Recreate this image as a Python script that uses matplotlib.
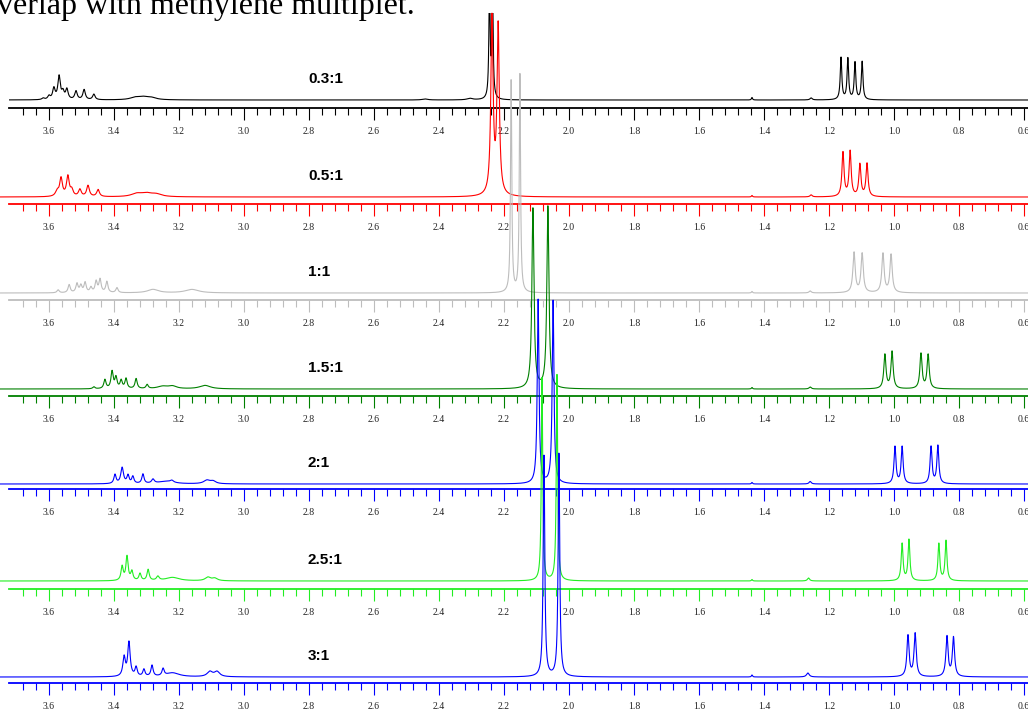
import numpy as np
import matplotlib
matplotlib.use("Agg")
import matplotlib.pyplot as plt
from matplotlib.ticker import FixedLocator, FormatStrFormatter

# ---------------- data ----------------
ratio_labels = ["0.3:1", "0.5:1", "1:1", "1.5:1", "2:1", "2.5:1", "3:1"]
line_colors = ["#000000", "#ff0000", "#bdbdbd", "#008000", "#0000ff", "#22ee22", "#0000ff"]

# peak tables: chemical shift (ppm), height (rel.), half width (ppm)
shifts_03 = [3.618, 3.600, 3.585, 3.569, 3.557, 3.545, 3.517, 3.492, 3.462,
             3.335, 3.310, 3.285, 2.443, 2.305, 2.2446, 2.2354,
             1.437, 1.255, 1.163, 1.142, 1.120, 1.098]
heights_03 = [1.5, 3.5, 11, 23, 7, 10, 8.5, 10, 5.5,
              2.2, 2.4, 2.0, 1, 1.5, 110, 110,
              2.5, 2, 42, 41, 37, 38]
widths_03 = [0.0045, 0.0045, 0.0045, 0.0045, 0.0045, 0.0045, 0.0045, 0.0045, 0.0045,
             0.018, 0.018, 0.018, 0.01, 0.01, 0.0023, 0.0023,
             0.002, 0.004, 0.0029, 0.0029, 0.0029, 0.0029]

shifts_05 = [3.575, 3.563, 3.542, 3.530, 3.505, 3.480, 3.449,
             3.330, 3.300, 3.270, 1.437, 1.255, 2.237, 2.218,
             1.157, 1.135, 1.105, 1.083]
heights_05 = [5, 18, 20, 6, 7, 11, 7,
              3, 3, 2.5, 1.5, 2, 176, 168,
              44, 45, 32, 33]
widths_05 = [0.006, 0.005, 0.005, 0.005, 0.005, 0.005, 0.005,
             0.02, 0.02, 0.02, 0.002, 0.004, 0.0042, 0.0042,
             0.0038, 0.0038, 0.0038, 0.0038]

shifts_10 = [3.572, 3.538, 3.514, 3.502, 3.489, 3.471, 3.455, 3.443, 3.422, 3.391,
             3.280, 3.160, 2.178, 2.151, 1.437, 1.258,
             1.123, 1.098, 1.034, 1.009]
heights_10 = [3, 8, 9, 7, 10, 5, 11, 13, 11, 5,
              3.5, 3.5, 212, 218, 1.5, 2,
              40, 39, 39, 38]
widths_10 = [0.004, 0.004, 0.004, 0.004, 0.004, 0.004, 0.004, 0.004, 0.004, 0.004,
             0.02, 0.025, 0.0023, 0.0023, 0.002, 0.004,
             0.0042, 0.0042, 0.0042, 0.0042]

shifts_15 = [3.462, 3.428, 3.406, 3.394, 3.378, 3.363, 3.332, 3.298,
             3.250, 3.220, 3.120, 2.111, 2.065, 1.437, 1.258,
             1.028, 1.006, 0.917, 0.895]
heights_15 = [2, 9, 17, 11, 8, 10, 10, 4,
              2.5, 2.5, 3.5, 180, 182, 1.5, 2,
              34, 37, 35, 34]
widths_15 = [0.004, 0.004, 0.004, 0.004, 0.004, 0.004, 0.004, 0.004,
             0.02, 0.015, 0.02, 0.0038, 0.0038, 0.002, 0.004,
             0.004, 0.004, 0.004, 0.004]

shifts_20 = [3.397, 3.375, 3.357, 3.342, 3.311, 3.280, 3.240, 3.222,
             3.114, 3.095, 2.095, 2.049, 1.437, 1.258,
             0.997, 0.975, 0.886, 0.865]
heights_20 = [9, 16, 8, 7, 9.5, 4, 2.5, 2,
              3.5, 2.5, 184, 183, 1.5, 2.5,
              37, 37, 37, 38]
widths_20 = [0.004, 0.005, 0.004, 0.004, 0.004, 0.005, 0.03, 0.006,
             0.012, 0.01, 0.0032, 0.0032, 0.002, 0.004,
             0.0036, 0.0036, 0.0036, 0.0036]

shifts_25 = [3.375, 3.360, 3.345, 3.320, 3.295, 3.265, 3.220,
             3.111, 3.090, 2.083, 2.037, 1.437, 1.263,
             0.975, 0.954, 0.862, 0.840]
heights_25 = [14, 24, 9, 7, 11, 4, 3.5,
              3.5, 2.5, 203, 206, 1.5, 3,
              37, 41, 37, 40]
widths_25 = [0.004, 0.004, 0.004, 0.004, 0.004, 0.005, 0.025,
             0.01, 0.01, 0.0025, 0.0025, 0.002, 0.004,
             0.0034, 0.0034, 0.0034, 0.0034]

shifts_30 = [3.369, 3.354, 3.332, 3.308, 3.283, 3.249, 3.220,
             3.105, 3.083, 2.077, 2.031, 1.437, 1.265,
             0.957, 0.935, 0.837, 0.817]
heights_30 = [19, 34, 9, 7, 11, 7, 4,
              5, 5, 221, 223, 2, 4,
              41, 43, 40, 39]
widths_30 = [0.0045, 0.0045, 0.004, 0.004, 0.004, 0.004, 0.025,
             0.01, 0.01, 0.0029, 0.0029, 0.002, 0.005,
             0.004, 0.004, 0.004, 0.004]

spectra = [
    (shifts_03, heights_03, widths_03),
    (shifts_05, heights_05, widths_05),
    (shifts_10, heights_10, widths_10),
    (shifts_15, heights_15, widths_15),
    (shifts_20, heights_20, widths_20),
    (shifts_25, heights_25, widths_25),
    (shifts_30, heights_30, widths_30),
]

major_ticks = [3.6, 3.4, 3.2, 3.0, 2.8, 2.6, 2.4, 2.2, 2.0, 1.8, 1.6, 1.4, 1.2, 1.0, 0.8, 0.6]

# ---------------- layout (pixels of a 1028x711 canvas) ----------------
W, H = 1028, 711
axis_px = [108, 204, 300, 396, 489, 589, 683]     # y of each axis line
base_off = [8, 7, 7, 7, 5, 8, 6]                  # baseline height above axis line
panel_h = 95
left_px, right_px = 9, 1040
ppm_left = 3.6 + (49 - left_px) / 325.0
ppm_right = 3.6 - (right_px - 49) / 325.0

plt.rcParams["font.family"] = ["Liberation Serif", "DejaVu Serif"]
fig = plt.figure(figsize=(W / 100, H / 100), dpi=100)

ppm = np.linspace(3.75, 0.55, 24000)


def lorentz_sum(x, centers, heights, widths):
    y = np.zeros_like(x)
    for c, h, g in zip(centers, heights, widths):
        y += h * g * g / ((x - c) ** 2 + g * g)
    return y


minor_ticks = [round(0.6 + 0.04 * k, 2) for k in range(0, 78)]
minor_ticks = [t for t in minor_ticks if t not in major_ticks and t <= 3.70]

ax_w = (right_px - left_px)
for i, (sp, col, lab) in enumerate(zip(spectra, line_colors, ratio_labels)):
    bottom = 1 - axis_px[i] / H
    ax = fig.add_axes([left_px / W, bottom, ax_w / W, panel_h / H])
    ax.set_facecolor("none")
    ax.set_xlim(ppm_left, ppm_right)
    ax.set_ylim(-base_off[i], panel_h - base_off[i])
    y = lorentz_sum(ppm, *sp)
    ax.plot(ppm, y, color=col, lw=0.8, clip_on=(i == 0), zorder=3)
    for s in ("top", "left", "right"):
        ax.spines[s].set_visible(False)
    ax.spines["bottom"].set_color(col)
    ax.spines["bottom"].set_linewidth(1.3)
    ax.set_yticks([])
    ax.xaxis.set_major_locator(FixedLocator(major_ticks))
    ax.xaxis.set_minor_locator(FixedLocator(minor_ticks))
    ax.xaxis.set_major_formatter(FormatStrFormatter("%.1f"))
    ax.tick_params(axis="x", which="major", length=8.6, width=0.8, color=col,
                   direction="out", pad=5.0, labelsize=7, labelcolor="#222222")
    ax.tick_params(axis="x", which="minor", length=4.7, width=0.8, color=col,
                   direction="out")
    # ratio label, 17 px above the spectrum baseline
    ax.text((308 - left_px) / ax_w, (base_off[i] + 17) / panel_h, lab,
            transform=ax.transAxes, fontsize=11, fontweight="bold",
            family="Liberation Sans", ha="left", va="baseline")

fig.text(415 / W, 1 - 14 / H, "overlap with methylene multiplet.", ha="right",
         va="baseline", fontsize=23, family="Liberation Serif")

fig.savefig("out.png", dpi=100)
